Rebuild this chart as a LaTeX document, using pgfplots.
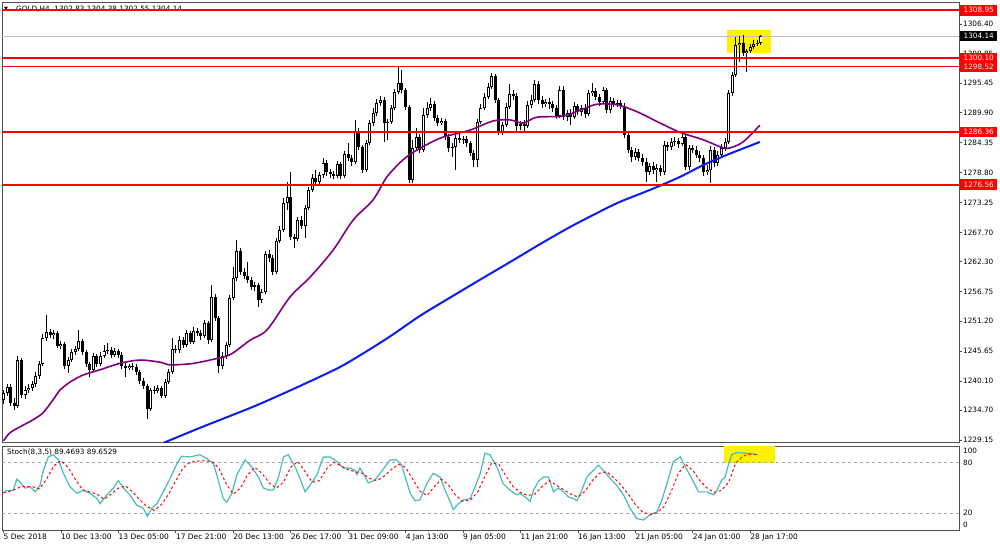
\documentclass[border=0pt]{standalone}
\usepackage{pgfplots}
\pgfplotsset{compat=1.18}
\usepackage{pgfplotstable}
\usepackage{fontspec}
\setmainfont{DejaVu Sans}
\definecolor{maPurple}{RGB}{128,0,128}
\definecolor{maBlue}{RGB}{10,30,240}
\definecolor{stK}{RGB}{70,190,185}
\definecolor{frame}{RGB}{80,80,80}

\pgfplotstableread{
i o h l c
0 1236.6 1238.4 1235.8 1237.9
1 1237.9 1239.5 1237.3 1239.0
2 1239.0 1239.5 1235.5 1236.0
3 1236.0 1236.9 1234.7 1235.5
4 1235.5 1244.7 1235.1 1244.0
5 1244.0 1244.4 1236.9 1237.5
6 1237.5 1239.2 1236.8 1238.4
7 1238.4 1239.5 1237.9 1238.8
8 1238.8 1240.1 1238.2 1239.5
9 1239.5 1241.8 1239.0 1241.0
10 1241.0 1243.8 1240.5 1243.3
11 1243.3 1248.8 1242.9 1248.1
12 1248.1 1252.4 1247.5 1249.2
13 1249.2 1249.8 1248.1 1248.6
14 1248.6 1249.6 1247.9 1249.0
15 1249.0 1249.4 1246.2 1246.6
16 1246.6 1247.5 1246.0 1247.0
17 1247.0 1247.3 1242.3 1242.9
18 1242.9 1244.6 1241.6 1244.0
19 1244.0 1246.0 1243.6 1245.5
20 1245.5 1246.6 1245.0 1246.0
21 1246.0 1249.6 1245.7 1247.5
22 1247.5 1247.9 1245.0 1245.5
23 1245.5 1245.9 1242.7 1243.3
24 1243.3 1243.6 1240.9 1242.2
25 1242.2 1245.3 1241.8 1244.7
26 1244.7 1245.1 1242.7 1243.3
27 1243.3 1245.5 1242.9 1244.7
28 1244.7 1246.8 1244.4 1245.7
29 1245.7 1247.2 1245.1 1245.9
30 1245.9 1246.4 1244.4 1245.0
31 1245.0 1246.2 1244.6 1245.7
32 1245.7 1246.0 1244.4 1245.0
33 1245.0 1245.5 1242.3 1242.9
34 1242.9 1243.4 1240.9 1242.5
35 1242.5 1243.3 1242.2 1242.9
36 1242.9 1243.4 1242.2 1242.7
37 1242.7 1243.3 1241.2 1241.8
38 1241.8 1242.2 1239.5 1240.1
39 1240.1 1240.7 1238.6 1239.2
40 1239.2 1239.5 1233.0 1234.9
41 1234.9 1238.8 1234.5 1238.4
42 1238.4 1239.2 1237.7 1238.2
43 1238.2 1239.4 1237.9 1238.8
44 1238.8 1239.2 1236.9 1237.3
45 1237.3 1240.5 1236.9 1239.9
46 1239.9 1242.3 1239.5 1241.8
47 1241.8 1248.1 1241.4 1246.0
48 1246.0 1246.8 1245.3 1245.9
49 1245.9 1248.5 1245.3 1247.7
50 1247.7 1248.3 1246.2 1246.8
51 1246.8 1249.6 1246.4 1249.0
52 1249.0 1249.4 1247.0 1247.3
53 1247.3 1250.1 1247.0 1249.4
54 1249.4 1249.9 1248.5 1249.0
55 1249.0 1249.6 1247.7 1248.5
56 1248.5 1251.4 1248.1 1250.9
57 1250.9 1251.3 1247.0 1247.7
58 1247.7 1257.9 1247.3 1255.7
59 1255.7 1256.3 1251.3 1251.8
60 1251.8 1252.2 1241.6 1242.9
61 1242.9 1245.5 1242.3 1244.7
62 1244.7 1247.3 1244.2 1246.8
63 1246.8 1256.1 1246.4 1255.5
64 1255.5 1261.3 1255.2 1259.2
65 1259.2 1266.3 1258.7 1264.2
66 1264.2 1264.8 1259.8 1260.3
67 1260.3 1261.1 1259.0 1259.6
68 1259.6 1262.2 1258.3 1258.9
69 1258.9 1259.4 1257.0 1257.6
70 1257.6 1258.5 1256.8 1257.9
71 1257.9 1258.3 1253.9 1255.2
72 1255.2 1257.2 1254.6 1256.6
73 1256.6 1264.2 1256.3 1263.7
74 1263.7 1264.4 1262.2 1263.0
75 1263.0 1263.5 1259.8 1260.3
76 1260.3 1266.7 1260.0 1266.1
77 1266.1 1268.9 1265.7 1268.2
78 1268.2 1274.1 1267.8 1273.2
79 1273.2 1277.1 1271.9 1274.3
80 1274.3 1278.9 1266.3 1266.9
81 1266.9 1267.4 1264.8 1266.5
82 1266.5 1270.6 1266.1 1270.0
83 1270.0 1270.8 1268.3 1268.9
84 1268.9 1272.8 1266.7 1272.2
85 1272.2 1276.1 1271.9 1275.6
86 1275.6 1278.5 1275.2 1277.8
87 1277.8 1279.3 1276.3 1277.1
88 1277.1 1278.9 1276.3 1278.4
89 1278.4 1281.5 1277.8 1280.6
90 1280.6 1281.2 1278.2 1278.9
91 1278.9 1279.5 1277.8 1278.5
92 1278.5 1279.1 1277.6 1278.2
93 1278.2 1281.0 1277.8 1280.4
94 1280.4 1280.8 1277.6 1278.2
95 1278.2 1282.8 1277.8 1282.3
96 1282.3 1284.3 1281.0 1281.5
97 1281.5 1282.1 1280.0 1280.8
98 1280.8 1288.6 1280.4 1286.5
99 1286.5 1287.1 1283.0 1283.6
100 1283.6 1283.9 1278.7 1279.3
101 1279.3 1284.9 1278.9 1284.3
102 1284.3 1288.6 1283.9 1288.0
103 1288.0 1290.8 1287.5 1289.9
104 1289.9 1292.5 1289.3 1291.7
105 1291.7 1293.0 1291.2 1292.3
106 1292.3 1292.8 1284.5 1288.0
107 1288.0 1288.8 1284.9 1288.2
108 1288.2 1291.4 1287.8 1290.8
109 1290.8 1294.3 1290.4 1293.8
110 1293.8 1298.4 1293.4 1295.4
111 1295.4 1297.9 1293.6 1294.1
112 1294.1 1294.5 1290.4 1291.0
113 1291.0 1291.4 1276.9 1277.4
114 1277.4 1284.9 1276.9 1283.4
115 1283.4 1287.1 1283.0 1285.4
116 1285.4 1286.0 1282.4 1283.0
117 1283.0 1290.8 1282.6 1289.5
118 1289.5 1291.9 1289.0 1290.8
119 1290.8 1292.7 1290.2 1291.5
120 1291.5 1292.1 1288.4 1289.0
121 1289.0 1289.5 1287.5 1288.0
122 1288.0 1289.0 1287.6 1288.4
123 1288.4 1288.8 1284.9 1285.4
124 1285.4 1286.0 1282.6 1283.4
125 1283.4 1284.3 1281.7 1283.6
126 1283.6 1285.8 1279.3 1285.2
127 1285.2 1286.5 1284.3 1284.9
128 1284.9 1285.6 1284.1 1285.0
129 1285.0 1285.6 1283.6 1284.3
130 1284.3 1284.7 1281.9 1282.4
131 1282.4 1283.0 1279.8 1281.2
132 1281.2 1288.8 1279.8 1288.2
133 1288.2 1291.5 1287.8 1290.8
134 1290.8 1293.6 1290.4 1292.8
135 1292.8 1295.4 1292.5 1294.7
136 1294.7 1297.3 1294.3 1296.7
137 1296.7 1297.1 1291.7 1292.3
138 1292.3 1292.7 1285.8 1286.3
139 1286.3 1288.2 1285.8 1287.6
140 1287.6 1291.7 1287.3 1291.0
141 1291.0 1295.3 1290.6 1293.4
142 1293.4 1294.1 1292.3 1293.0
143 1293.0 1293.6 1286.5 1287.5
144 1287.5 1288.4 1286.7 1287.8
145 1287.8 1288.6 1286.5 1287.5
146 1287.5 1292.1 1287.1 1291.4
147 1291.4 1293.2 1290.8 1292.3
148 1292.3 1296.0 1291.9 1295.3
149 1295.3 1295.8 1291.5 1292.3
150 1292.3 1293.0 1290.8 1291.5
151 1291.5 1292.5 1291.0 1291.9
152 1291.9 1292.7 1290.6 1291.5
153 1291.5 1292.1 1290.1 1290.8
154 1290.8 1291.4 1288.8 1289.3
155 1289.3 1294.9 1289.0 1294.1
156 1294.1 1294.9 1288.6 1289.1
157 1289.1 1290.4 1288.4 1289.9
158 1289.9 1290.6 1287.6 1289.1
159 1289.1 1291.9 1288.8 1291.2
160 1291.2 1291.5 1289.5 1290.1
161 1290.1 1291.4 1289.3 1290.8
162 1290.8 1291.5 1289.0 1289.7
163 1289.7 1294.1 1289.3 1293.6
164 1293.6 1295.4 1293.0 1294.0
165 1294.0 1294.5 1292.3 1292.8
166 1292.8 1293.4 1291.2 1291.9
167 1291.9 1294.7 1291.5 1294.1
168 1294.1 1294.5 1289.9 1290.4
169 1290.4 1292.8 1289.9 1292.1
170 1292.1 1292.7 1291.0 1291.5
171 1291.5 1292.3 1291.0 1291.7
172 1291.7 1292.3 1290.6 1291.2
173 1291.2 1291.7 1285.2 1285.8
174 1285.8 1286.3 1282.4 1283.0
175 1283.0 1283.6 1280.8 1281.7
176 1281.7 1283.4 1281.2 1282.6
177 1282.6 1283.2 1281.0 1281.5
178 1281.5 1282.3 1280.0 1280.8
179 1280.8 1281.5 1277.1 1278.9
180 1278.9 1280.6 1278.4 1280.0
181 1280.0 1280.8 1278.5 1279.3
182 1279.3 1280.4 1277.1 1279.7
183 1279.7 1280.2 1278.2 1278.9
184 1278.9 1284.7 1278.4 1283.9
185 1283.9 1284.5 1282.8 1283.6
186 1283.6 1285.2 1283.0 1284.5
187 1284.5 1285.4 1283.8 1284.7
188 1284.7 1285.2 1283.4 1284.1
189 1284.1 1286.3 1283.8 1285.4
190 1285.4 1285.8 1279.3 1279.8
191 1279.8 1283.9 1279.3 1283.4
192 1283.4 1283.9 1282.4 1283.0
193 1283.0 1283.7 1281.5 1282.1
194 1282.1 1282.8 1280.8 1281.5
195 1281.5 1282.1 1278.2 1278.9
196 1278.9 1280.2 1278.4 1279.3
197 1279.3 1283.7 1276.9 1283.0
198 1283.0 1283.6 1279.8 1280.6
199 1280.6 1282.8 1280.0 1282.1
200 1282.1 1284.1 1281.5 1283.4
201 1283.4 1285.2 1282.8 1284.5
202 1284.5 1294.1 1284.1 1293.6
203 1293.6 1297.5 1293.0 1296.9
204 1296.9 1304.0 1296.6 1302.5
205 1302.5 1304.2 1299.3 1302.9
206 1302.9 1304.4 1300.5 1301.0
207 1301.0 1301.8 1297.5 1301.4
208 1301.4 1302.7 1301.0 1302.1
209 1302.1 1303.4 1301.8 1302.7
210 1302.7 1303.4 1302.3 1302.83
211 1302.83 1304.38 1302.55 1304.14
}\candles

\begin{document}
\begin{tikzpicture}
\useasboundingbox (0,0) rectangle (1000pt,550pt);
\fill[white] (0,0) rectangle (1000pt,550pt);
\node[anchor=west, inner sep=0pt, font=\fontsize{5}{6}\selectfont] at (4pt,541pt) {▼};
\node[anchor=west, inner sep=0pt, font=\fontsize{7.3}{8}\selectfont] at (16pt,540.5pt) {GOLD,H4\ \ 1302.83 1304.38 1302.55 1304.14};

\begin{axis}[
  at={(2pt,108pt)}, anchor=south west, scale only axis,
  width=957pt, height=440pt,
  xmin=-0.42, xmax=266.16, ymin=1228.78, ymax=1310.49,
  axis line style={frame, line width=0.9pt},
  xtick=\empty,
  ytick={1229.15,1234.70,1240.10,1245.65,1251.20,1256.75,1262.30,1267.70,1273.25,1278.80,1284.35,1289.90,1295.45,1300.85,1306.40},
  yticklabels={1229.15,1234.70,1240.10,1245.65,1251.20,1256.75,1262.30,1267.70,1273.25,1278.80,1284.35,1289.90,1295.45,1300.85,1306.40},
  ytick pos=right, yticklabel pos=right,
  tick align=outside, major tick length=3pt,
  tick style={frame, line width=0.8pt},
  yticklabel style={font=\fontsize{7.3}{8}\selectfont, anchor=west, inner sep=0pt, xshift=1pt},
  clip mode=individual,
]
\fill[yellow] (axis cs:201.5,1305.3) rectangle (axis cs:213.8,1301.0);
\addplot[black!25, line width=0.8pt, forget plot] coordinates {(-0.42,1304.14) (266.16,1304.14)};
% candles
\addplot[black, line width=1pt, quiver={u=0, v=\thisrow{h}-\thisrow{l}}, forget plot] table[x=i, y=l] {\candles};
\addplot[black, line width=3pt, quiver={u=0, v=\thisrow{c}-\thisrow{o}}, forget plot] table[x=i, y=o] {\candles};
\addplot[white, line width=1.1pt, quiver={u=0, v={max(\thisrow{c}-\thisrow{o}-0.38,0)}}, forget plot] table[x=i, y expr=\thisrow{o}+0.19] {\candles};
% moving averages
\addplot[maBlue, line width=2pt, smooth, forget plot] coordinates {
(44.5,1228.6) (54.7,1231.4) (68.7,1235.1) (77.0,1237.5) (86.2,1240.3) (93.7,1242.7) (100.1,1245.2) (107.7,1248.4) (116.0,1252.2) (124.4,1255.6) (132.7,1258.9) (141.1,1262.2) (149.4,1265.5) (157.8,1268.7) (166.2,1271.6) (171.8,1273.4) (180.1,1275.6) (188.4,1278.0) (194.9,1280.2) (201.5,1282.1) (210.7,1284.5)};
\addplot[maPurple, line width=1.6pt, smooth, forget plot] coordinates {
(0,1229.0) (1.8,1230.5) (4.6,1231.6) (8.2,1232.9) (11.0,1234.2) (13.8,1236.6) (15.7,1238.4) (18.5,1239.9) (22.1,1241.2) (26.9,1242.2) (32.5,1243.4) (38.0,1244.0) (43.6,1243.6) (46.4,1243.1) (52.0,1243.3) (54.7,1243.6) (57.5,1244.0) (63.1,1245.0) (68.7,1247.7) (73.4,1249.6) (79.8,1255.7) (85.4,1259.4) (91.8,1264.4) (97.4,1270.0) (102.9,1273.7) (106.8,1278.0) (111.3,1281.2) (115.2,1283.0) (121.6,1285.2) (127.2,1286.2) (130.8,1286.9) (136.4,1288.4) (141.1,1288.6) (144.7,1288.0) (148.6,1289.1) (155.8,1289.3) (161.4,1290.6) (165.3,1291.5) (170.9,1291.4) (176.5,1290.1) (182.9,1288.0) (188.4,1286.3) (194.9,1284.9) (200.4,1283.4) (202.4,1283.4) (206.0,1284.5) (210.7,1287.6)};
% horizontal levels
\addplot[red, line width=1.8pt, forget plot] coordinates {(-0.42,1308.95) (266.16,1308.95)};
\addplot[red, line width=1.8pt, forget plot] coordinates {(-0.42,1300.10) (266.16,1300.10)};
\addplot[red, line width=1.8pt, forget plot] coordinates {(-0.42,1298.52) (266.16,1298.52)};
\addplot[red, line width=1.8pt, forget plot] coordinates {(-0.42,1286.36) (266.16,1286.36)};
\addplot[red, line width=1.8pt, forget plot] coordinates {(-0.42,1276.56) (266.16,1276.56)};
\coordinate (r1) at (axis cs:266.16,1308.95);
\coordinate (r2) at (axis cs:266.16,1300.10);
\coordinate (r3) at (axis cs:266.16,1298.52);
\coordinate (r4) at (axis cs:266.16,1286.36);
\coordinate (r5) at (axis cs:266.16,1276.56);
\coordinate (r6) at (axis cs:266.16,1304.14);
\end{axis}

\begin{axis}[
  at={(2pt,20pt)}, anchor=south west, scale only axis,
  width=957pt, height=84pt,
  xmin=-0.42, xmax=266.16, ymin=0, ymax=100,
  axis line style={frame, line width=0.9pt},
  xtick={0,16,32,48,64,80,96,112,128,144,160,176,192,208},
  xticklabels={5 Dec 2018,10 Dec 13:00,13 Dec 05:00,17 Dec 21:00,20 Dec 13:00,26 Dec 17:00,31 Dec 09:00,4 Jan 13:00,9 Jan 05:00,11 Jan 21:00,16 Jan 13:00,21 Jan 05:00,24 Jan 01:00,28 Jan 17:00},
  xtick pos=left,
  ytick={5.7,20,80,94},
  yticklabels={0,20,80,100},
  ytick pos=right, yticklabel pos=right,
  tick align=outside, major tick length=3pt,
  xtick style={frame, line width=0.8pt},
  ytick style={draw=none},
  xticklabel style={font=\fontsize{7.5}{8}\selectfont, anchor=north west, inner sep=0pt, yshift=-1pt},
  yticklabel style={font=\fontsize{7.3}{8}\selectfont, anchor=west, inner sep=0pt, xshift=1pt},
  clip mode=individual,
]
\fill[yellow] (axis cs:200.7,80) rectangle (axis cs:215.0,100);
\addplot[black!35, line width=0.8pt, dash pattern=on 3pt off 3pt, forget plot] coordinates {(-0.42,20) (266.16,20)};
\addplot[black!35, line width=0.8pt, dash pattern=on 3pt off 3pt, forget plot] coordinates {(-0.42,80) (266.16,80)};
\addplot[stK, line width=1.2pt, forget plot] coordinates {
(0,43.7)(0.9,47.2)(2.7,47.2)(3.7,60.5)(4.6,56.9)(6.0,49.9)(7.4,51.6)(8.8,45.4)(10.2,53.4)(11.1,71.0)(12.5,87.0)(13.9,89.6)(15.3,83.4)(16.7,67.5)(18.5,51.6)(20.4,43.7)(22.2,47.2)(24.1,43.7)(26.0,37.5)(26.9,31.3)(28.8,41.9)(30.6,49.9)(32.0,58.7)(33.4,49.9)(35.2,41.9)(37.1,29.6)(38.9,26.0)(40.1,16.3)(41.3,26.0)(42.7,31.3)(44.5,45.4)(46.4,61.3)(48.3,79.0)(49.6,87.8)(52.0,87.0)(54.7,89.6)(56.6,85.2)(58.5,79.0)(59.8,59.6)(61.2,37.5)(62.2,33.1)(63.6,43.7)(65.0,65.8)(67.3,83.4)(69.1,75.5)(71.0,63.1)(72.4,49.9)(74.2,47.2)(75.2,48.1)(76.6,63.1)(78.0,87.0)(79.3,89.6)(81.2,75.5)(82.6,61.3)(84.0,45.4)(85.4,53.4)(87.3,65.8)(89.1,87.0)(91.0,87.0)(92.8,81.6)(94.7,73.7)(96.5,73.7)(97.9,71.0)(98.4,65.8)(99.3,73.7)(100.2,67.5)(101.6,56.0)(103.5,59.6)(104.9,67.5)(106.3,75.5)(107.7,83.4)(109.5,83.4)(110.9,77.2)(111.9,63.1)(113.3,43.7)(114.6,34.9)(116.0,35.7)(117.9,55.2)(119.7,67.5)(121.6,63.1)(123.0,47.2)(124.4,34.0)(125.3,24.3)(126.7,31.3)(128.1,35.7)(130.0,37.5)(131.4,51.6)(132.8,67.5)(134.1,91.4)(135.5,89.6)(137.4,75.5)(139.2,55.2)(141.1,47.2)(143.0,41.9)(143.9,43.7)(145.8,37.5)(146.7,34.0)(147.6,47.2)(149.0,57.8)(150.4,63.1)(151.8,63.1)(153.2,45.4)(154.6,49.9)(156.0,45.4)(157.4,39.3)(158.7,37.5)(159.7,34.9)(160.6,41.9)(162.5,63.1)(164.3,71.0)(165.7,77.2)(167.1,71.0)(169.0,61.3)(170.8,53.4)(172.7,41.9)(174.5,26.0)(176.4,13.7)(178.2,11.9)(180.1,18.1)(182.0,21.6)(183.4,35.7)(184.8,55.2)(186.6,81.6)(188.5,87.0)(189.9,75.5)(191.7,61.3)(193.6,45.4)(195.9,45.4)(197.8,41.9)(198.7,47.2)(200.1,59.6)(201.0,63.1)(201.9,77.2)(202.8,89.6)(204.2,92.2)(206.1,91.4)(207.9,91.4)(210.2,89.5)};
\addplot[red, line width=1pt, dash pattern=on 2.5pt off 2.5pt, forget plot] coordinates {
(0,44.6)(2,46.3)(5,51.6)(8,51.6)(10,49.0)(12,60.5)(14,76.3)(16,82.5)(18,74.6)(20,60.5)(22,48.1)(24,45.4)(26,42.8)(28,36.6)(30,42.8)(32,49.9)(34,52.5)(36,45.4)(38,35.7)(40,27.8)(42,23.4)(44,30.4)(46,42.8)(48,58.7)(50,73.7)(52,80.8)(55,82.5)(58,81.6)(60,73.7)(62,55.2)(64,42.8)(66,49.9)(68,65.8)(70,74.6)(72,67.5)(74,56.0)(76,49.9)(78,56.9)(80,74.6)(82,81.6)(84,69.3)(86,56.9)(88,58.7)(90,72.8)(92,80.8)(94,76.3)(96,71.9)(98,69.3)(100,67.5)(102,61.3)(104,58.7)(106,64.0)(108,71.9)(110,78.1)(112,74.6)(114,60.5)(116,46.3)(118,41.0)(120,51.6)(122,60.5)(124,53.4)(126,41.0)(128,34.0)(130,35.7)(132,44.6)(134,63.1)(136,79.9)(138,78.1)(140,64.0)(142,51.6)(144,44.6)(146,41.0)(148,42.8)(150,51.6)(152,58.7)(154,53.4)(156,48.1)(158,42.8)(160,39.3)(162,46.3)(164,58.7)(166,67.5)(168,69.3)(170,62.2)(172,53.4)(174,42.8)(176,30.4)(178,21.6)(180,18.1)(182,20.7)(184,27.8)(186,46.3)(188,67.5)(190,78.1)(192,71.0)(194,58.7)(196,49.9)(198,44.6)(200,47.2)(202,56.9)(204,80.0)(206,88.0)(208,90.0)(210.2,89.65)};
\end{axis}

% price labels on the right scale
\foreach \c/\t in {r1/1308.95, r2/1300.10, r3/1298.52, r4/1286.36, r5/1276.56}{
  \node[fill=red, text=white, anchor=west, inner sep=0pt, minimum width=37pt, minimum height=10.5pt, font=\fontsize{7.3}{8}\selectfont] at ([xshift=1pt]\c) {\t};
}
\node[fill=black, text=white, anchor=west, inner sep=0pt, minimum width=37pt, minimum height=10.5pt, font=\fontsize{7.3}{8}\selectfont] at ([xshift=1pt]r6) {1304.14};
\node[anchor=west, inner sep=0pt, font=\fontsize{7.3}{8}\selectfont] at (7pt,97.3pt) {Stoch(8,3,5) 89.4693 89.6529};
\end{tikzpicture}
\end{document}
